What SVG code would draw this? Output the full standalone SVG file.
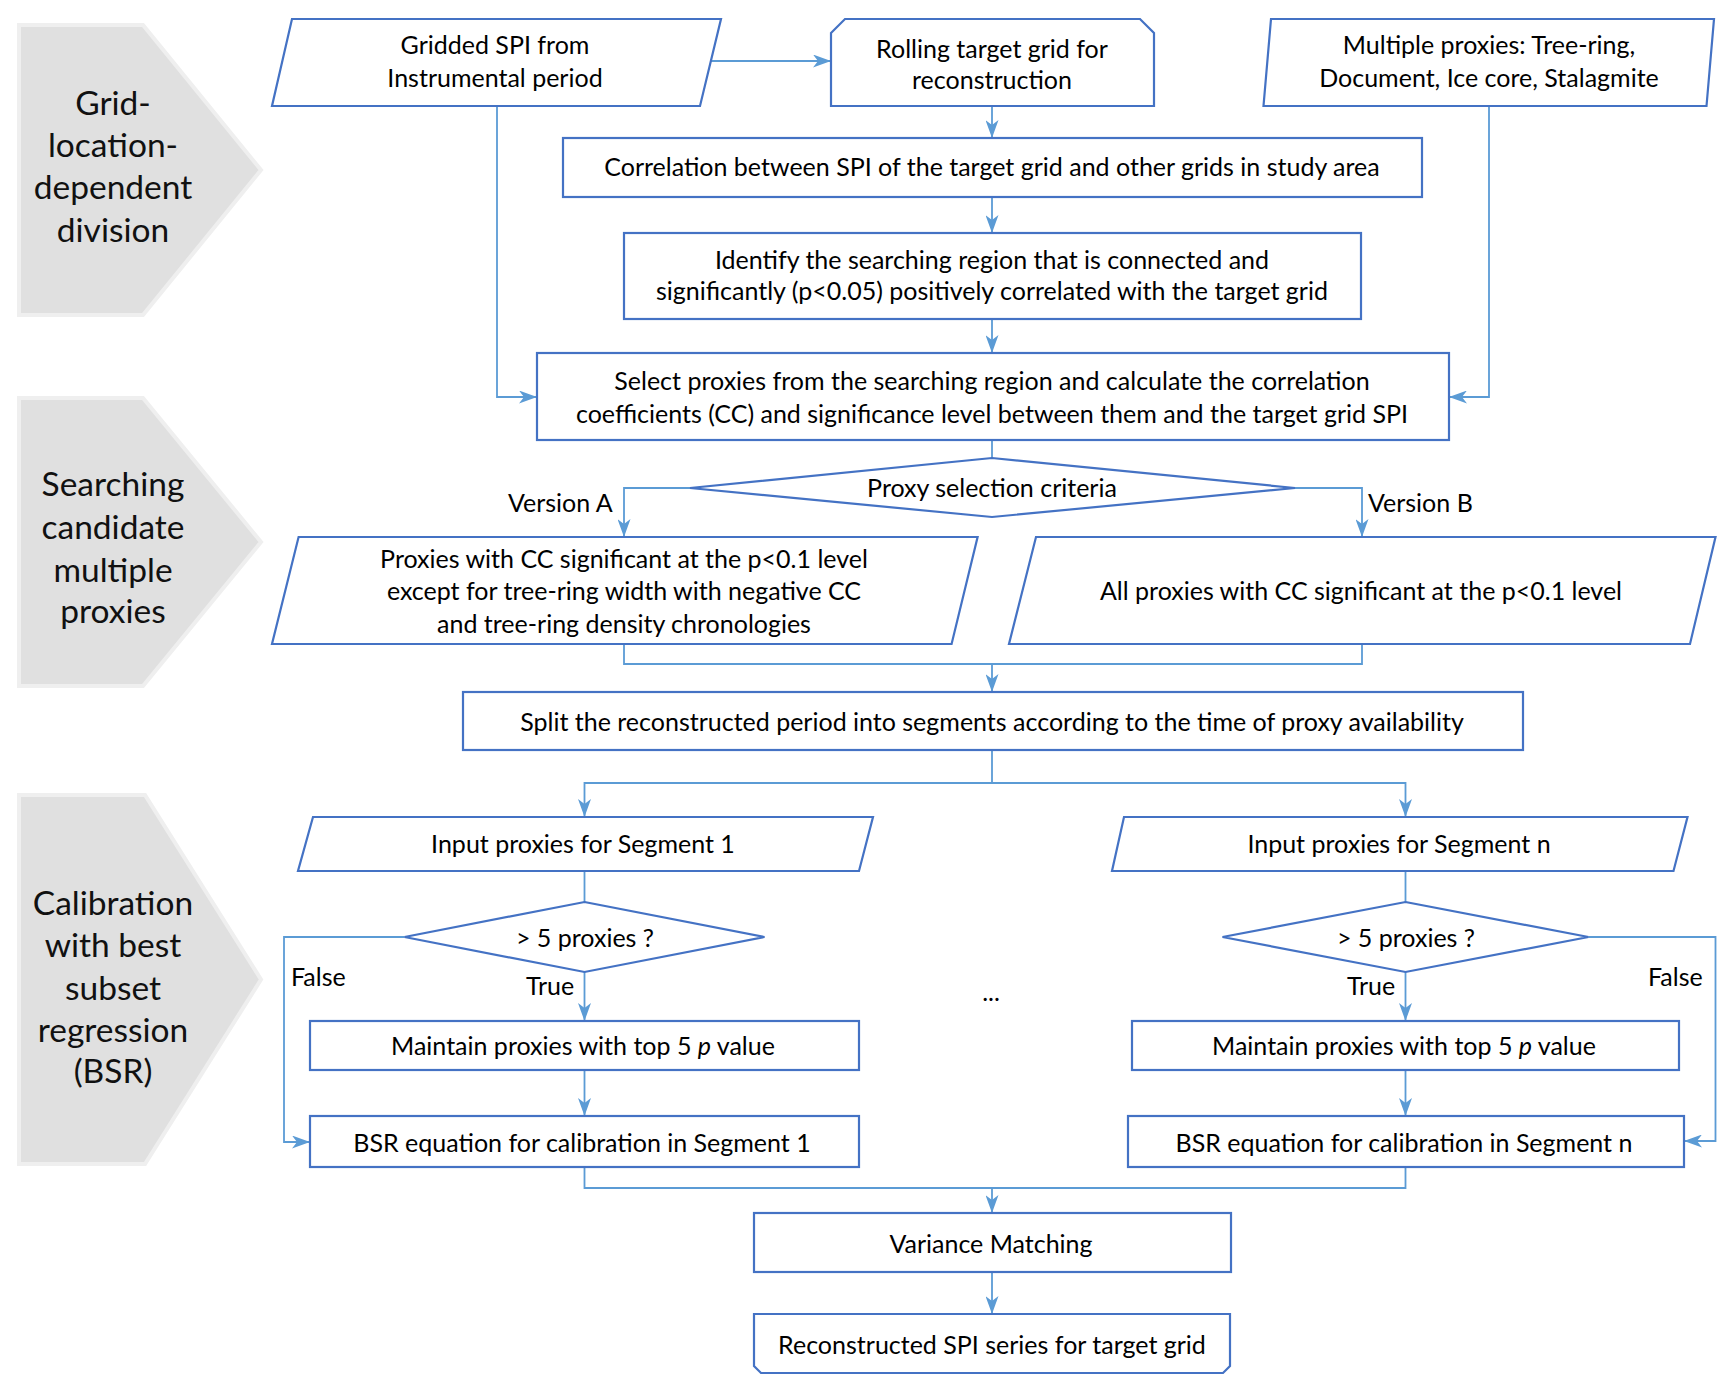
<svg xmlns="http://www.w3.org/2000/svg" width="1735" height="1393" viewBox="0 0 1735 1393">
<defs>
<style>
.box{fill:#ffffff;stroke:#4472C4;stroke-width:2.2}
.panel{fill:#e0e0e0;stroke:#efefef;stroke-width:4;stroke-linejoin:miter}
.con{fill:none;stroke:#5B9BD5;stroke-width:1.8}
.arr{marker-end:url(#ah)}
text{font-family:Lato,"Liberation Sans",sans-serif;fill:#000000}
.t{font-size:25px;text-anchor:middle}
.l{font-size:25px}
.p{font-size:33.5px;text-anchor:middle;fill:#111111}
</style>
<marker id="ah" viewBox="0 0 18 13" refX="18" refY="6.5" markerWidth="18" markerHeight="13" markerUnits="userSpaceOnUse" orient="auto">
<path d="M0,0 L18,6.5 L0,13 L5,6.5 Z" fill="#5B9BD5"/>
</marker>
</defs>
<rect width="1735" height="1393" fill="#ffffff"/>

<g id="panel-grid">
<polygon class="panel" points="19,25 143,25 261,170 143,315 19,315"/>
<text class="p" x="113" y="115">Grid-</text>
<text class="p" x="113" y="157">location-</text>
<text class="p" x="113" y="199">dependent</text>
<text class="p" x="113" y="242">division</text>
</g>
<g id="panel-search">
<polygon class="panel" points="19,398 143,398 261,542 143,686 19,686"/>
<text class="p" x="113" y="496">Searching</text>
<text class="p" x="113" y="539">candidate</text>
<text class="p" x="113" y="582">multiple</text>
<text class="p" x="113" y="623">proxies</text>
</g>
<g id="panel-calib">
<polygon class="panel" points="19,795 145,795 261,979.5 145,1164 19,1164"/>
<text class="p" x="113" y="915">Calibration</text>
<text class="p" x="113" y="957">with best</text>
<text class="p" x="113" y="1000">subset</text>
<text class="p" x="113" y="1042">regression</text>
<text class="p" x="113" y="1083">(BSR)</text>
</g>

<g id="connectors">
<path class="con arr" d="M711,61 H831"/>
<path class="con arr" d="M992,106 V138"/>
<path class="con arr" d="M992,197 V233"/>
<path class="con arr" d="M992,319 V353"/>
<path class="con arr" d="M497,106 V397 H537"/>
<path class="con arr" d="M1489,106 V397 H1449"/>
<path class="con" d="M992,440 V458"/>
<path class="con arr" d="M690,488 H624 V537"/>
<path class="con arr" d="M1295,488 H1362 V537"/>
<path class="con" d="M624,644 V664 H1362 V644"/>
<path class="con arr" d="M992,664 V692"/>
<path class="con" d="M992,750 V783"/>
<path class="con arr" d="M992,783 H584.5 V817"/>
<path class="con arr" d="M992,783 H1405.5 V817"/>
<path class="con" d="M584.5,871 V902"/>
<path class="con arr" d="M584.5,972 V1021"/>
<path class="con arr" d="M584.5,1070 V1116"/>
<path class="con arr" d="M404.5,937 H284 V1142 H310"/>
<path class="con" d="M1405.5,871 V902"/>
<path class="con arr" d="M1405.5,972 V1021"/>
<path class="con arr" d="M1405.5,1070 V1116"/>
<path class="con arr" d="M1588.5,937 H1715.5 V1141 H1684"/>
<path class="con" d="M584.5,1167 V1188 H1405.5 V1167"/>
<path class="con arr" d="M992,1188 V1213"/>
<path class="con arr" d="M992,1272 V1314"/>
</g>

<g id="labels">
<text class="l" x="508" y="512">Version A</text>
<text class="l" x="1368" y="512">Version B</text>
<text class="l" x="291" y="986">False</text>
<text class="l" x="526" y="995">True</text>
<text class="t" x="991" y="1001">...</text>
<text class="l" x="1347" y="995">True</text>
<text class="l" x="1648" y="986">False</text>
</g>

<g id="node-gridded">
<polygon class="box" points="292,19 721,19 700,106 272,106"/>
<text class="t" x="495" y="54">Gridded SPI from</text>
<text class="t" x="495" y="87">Instrumental period</text>
</g>
<g id="node-rolling">
<path class="box" d="M831,33 L845,19 H1140 L1154,33 V106 H831 Z"/>
<text class="t" x="992" y="58">Rolling target grid for</text>
<text class="t" x="992" y="89">reconstruction</text>
</g>
<g id="node-multiple">
<polygon class="box" points="1271,19 1714,19 1706.5,106 1263.5,106"/>
<text class="t" x="1489" y="54">Multiple proxies: Tree-ring,</text>
<text class="t" x="1489" y="87">Document, Ice core, Stalagmite</text>
</g>
<g id="node-correlation">
<rect class="box" x="563" y="138" width="859" height="59"/>
<text class="t" x="992" y="176">Correlation between SPI of the target grid  and other grids in study area</text>
</g>
<g id="node-identify">
<rect class="box" x="624" y="233" width="737" height="86"/>
<text class="t" x="992" y="268.5">Identify the searching region that is connected and</text>
<text class="t" x="992" y="299.5">significantly  (p&lt;0.05) positively correlated with the target grid</text>
</g>
<g id="node-select">
<rect class="box" x="537" y="353" width="912" height="87"/>
<text class="t" x="992" y="389.5">Select proxies from the searching region and calculate the correlation</text>
<text class="t" x="992" y="422.5">coefficients (CC) and significance level between them and the target grid SPI</text>
</g>
<g id="node-criteria">
<polygon class="box" points="992,458 1295,488 992,517 690,488"/>
<text class="t" x="992" y="497">Proxy selection criteria</text>
</g>
<g id="node-versionA">
<polygon class="box" points="298.6,537 977.6,537 951.6,644 272,644"/>
<text class="t" x="624" y="567.5">Proxies with CC significant at the p&lt;0.1 level</text>
<text class="t" x="624" y="600">except for tree-ring width with negative CC</text>
<text class="t" x="624" y="632.5">and tree-ring density chronologies</text>
</g>
<g id="node-versionB">
<polygon class="box" points="1036,537 1715.5,537 1690,644 1009,644"/>
<text class="t" x="1361" y="599.5">All proxies with CC significant at the p&lt;0.1 level</text>
</g>
<g id="node-split">
<rect class="box" x="463" y="692" width="1060" height="58"/>
<text class="t" x="992" y="730.5">Split the reconstructed period into segments according to the time of proxy availability</text>
</g>
<g id="node-input1">
<polygon class="box" points="313,817 873,817 859,871 298,871"/>
<text class="t" x="583" y="852.5">Input proxies for Segment 1</text>
</g>
<g id="node-inputn">
<polygon class="box" points="1124,817 1687.5,817 1673.5,871 1112,871"/>
<text class="t" x="1399" y="852.5">Input proxies for Segment n</text>
</g>
<g id="node-diamond1">
<polygon class="box" points="584.5,902 764.5,937 584.5,972 404.5,937"/>
<text class="t" x="585" y="946.5">&gt; 5 proxies ?</text>
</g>
<g id="node-diamondn">
<polygon class="box" points="1405.5,902 1588.5,937 1405.5,972 1222.5,937"/>
<text class="t" x="1406" y="946.5">&gt; 5 proxies ?</text>
</g>
<g id="node-maintain1">
<rect class="box" x="310" y="1021" width="549" height="49"/>
<text class="t" x="583" y="1054.5">Maintain proxies with top 5 <tspan font-style="italic">p</tspan> value</text>
</g>
<g id="node-maintainn">
<rect class="box" x="1132" y="1021" width="547" height="49"/>
<text class="t" x="1404" y="1054.5">Maintain proxies with top 5 <tspan font-style="italic">p</tspan> value</text>
</g>
<g id="node-bsr1">
<rect class="box" x="310" y="1116" width="549" height="51"/>
<text class="t" x="582" y="1151.5">BSR equation for calibration in Segment 1</text>
</g>
<g id="node-bsrn">
<rect class="box" x="1128" y="1116" width="556" height="51"/>
<text class="t" x="1404" y="1151.5">BSR equation for calibration in Segment n</text>
</g>
<g id="node-variance">
<rect class="box" x="754" y="1213" width="477" height="59"/>
<text class="t" x="991" y="1253">Variance Matching</text>
</g>
<g id="node-reconstructed">
<path class="box" d="M754,1314 H1230 V1366 L1223,1373 H761 L754,1366 Z"/>
<text class="t" x="992" y="1353.5">Reconstructed SPI series for target grid</text>
</g>
</svg>
